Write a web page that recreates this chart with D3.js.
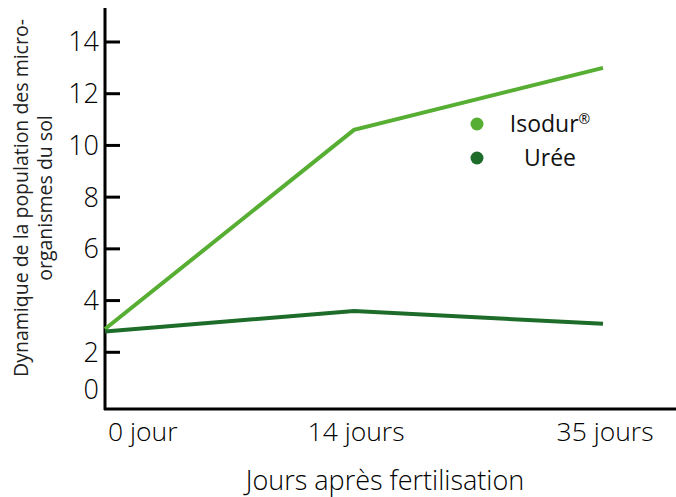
<!DOCTYPE html>
<html><head><meta charset="utf-8">
<script src="https://cdn.jsdelivr.net/npm/d3@7"></script>
<style>body{margin:0;background:#fff}svg{display:block;font-family:"Open Sans",sans-serif}</style>
</head><body><svg id="c" width="676" height="497"></svg>
<script>
const categories = ["0 jour", "14 jours", "35 jours"];
const isodur = [2.9, 10.6, 13.0];
const uree = [2.8, 3.6, 3.1];
const yTicks = [0, 2, 4, 6, 8, 10, 12, 14];
const seriesNames = ["Isodur", "Urée"];
const seriesSup = ["®", ""];
const colors = ["#56ae33", "#1d6c29"];

const svg = d3.select("#c");
const x = d3.scalePoint().domain(categories).range([105, 603]);
const y = d3.scaleLinear().domain([0, 14]).range([404, 42]);

svg.append("line").attr("x1",105).attr("x2",105).attr("y1",8).attr("y2",410)
  .attr("stroke","#000").attr("stroke-width",3);
svg.append("line").attr("x1",104).attr("x2",676).attr("y1",409).attr("y2",409)
  .attr("stroke","#000").attr("stroke-width",3);

const yt = svg.append("g");
yTicks.forEach(v => {
  if (v > 0) yt.append("line").attr("x1",105).attr("x2",120).attr("y1",y(v)).attr("y2",y(v))
    .attr("stroke","#000").attr("stroke-width",3);
  yt.append("text").attr("x",99).attr("y",y(v) - (v===0?14:0)).attr("dy","0.35em")
    .attr("text-anchor","end").attr("font-size",27).attr("font-weight",300).attr("fill","#000").text(v);
});

categories.forEach((c,i) => {
  svg.append("text").attr("x", i===0 ? x(c)+3 : x(c)+2).attr("y",441)
    .attr("text-anchor", i===0 ? "start" : "middle")
    .attr("font-size",26.5).attr("font-weight",300).attr("fill","#000").text(c);
});
svg.append("text").attr("x",385).attr("y",490).attr("text-anchor","middle")
  .attr("font-size",27).attr("font-weight",300).attr("fill","#000").text("Jours après fertilisation");

const yt2 = svg.append("text").attr("transform","translate(0,198) rotate(-90)")
  .attr("text-anchor","middle").attr("font-size",19.5).attr("font-weight",400).attr("fill","#222");
yt2.append("tspan").attr("x",0).attr("y",28).text("Dynamique de la population des micro-");
yt2.append("tspan").attr("x",0).attr("y",52).text("organismes du sol");

const line = d3.line().x((d,i)=>x(categories[i])).y(d=>y(d));
[isodur, uree].forEach((s,k) => {
  svg.append("path").datum(s).attr("d",line).attr("fill","none")
    .attr("stroke",colors[k]).attr("stroke-width",4);
});

seriesNames.forEach((n,k) => {
  const yy = 124 + k*34;
  svg.append("circle").attr("cx",477).attr("cy",yy).attr("r",6.5).attr("fill",colors[k]);
  const t = svg.append("text").attr("x",550).attr("y",yy).attr("dy","0.35em").attr("text-anchor","middle")
    .attr("font-size",23).attr("fill","#111");
  t.append("tspan").text(n);
  if (seriesSup[k]) t.append("tspan").attr("font-size",14).attr("dy","-0.6em").text(seriesSup[k]);
});
</script></body></html>
